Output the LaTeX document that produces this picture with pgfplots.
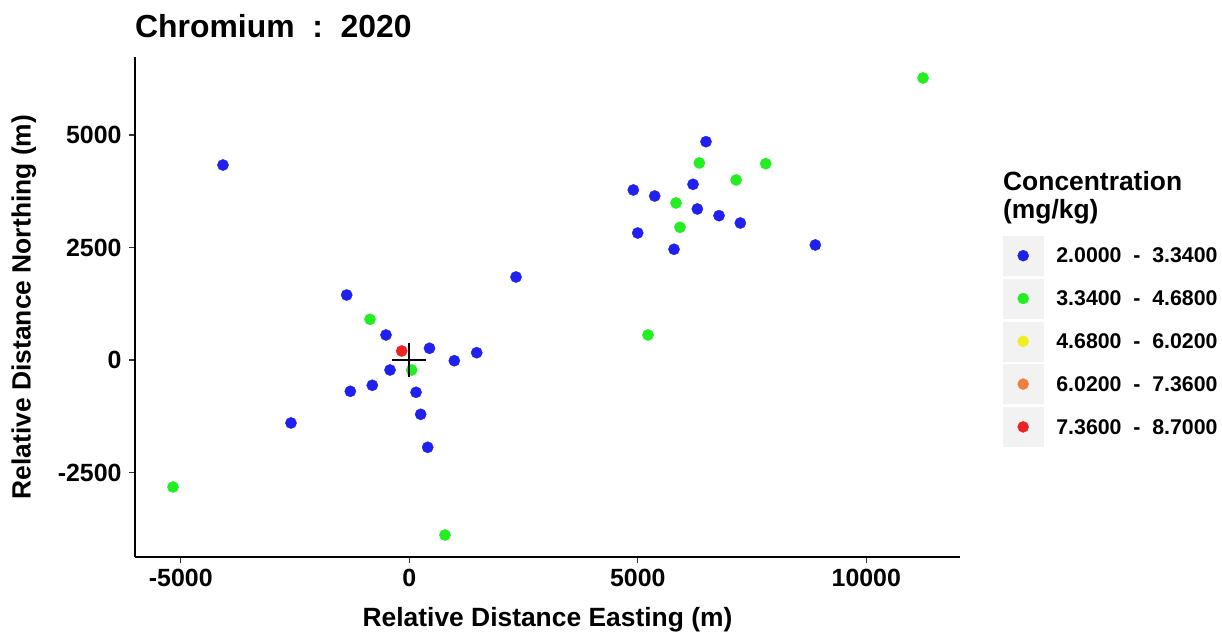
\documentclass[border=0pt]{standalone}
\usepackage{fontspec}
\setmainfont{Liberation Sans}
\usepackage{pgfplots}
\pgfplotsset{compat=1.18}
\definecolor{cBlue}{RGB}{32,32,240}
\definecolor{cGreen}{RGB}{34,238,34}
\definecolor{cYellow}{RGB}{238,238,34}
\definecolor{cOrange}{RGB}{238,128,64}
\definecolor{cRed}{RGB}{238,34,34}
\definecolor{keybg}{RGB}{242,242,242}
\begin{document}
\begin{tikzpicture}
\useasboundingbox (0,0) rectangle (1222bp,632bp);
\begin{axis}[
  at={(135bp,75bp)}, anchor=south west,
  width=825bp, height=500bp, scale only axis,
  xmin=-6002, xmax=12050, ymin=-4378, ymax=6733,
  axis lines=left,
  axis line style={-, line width=1.6bp, black},
  scaled ticks=false,
  xtick={-5000,0,5000,10000}, xticklabels={-5000,0,5000,10000},
  ytick={-2500,0,2500,5000}, yticklabels={-2500,0,2500,5000},
  tick align=outside, major tick length=6bp,
  tick style={line width=1.2bp, black!80},
  ticklabel style={font=\fontsize{25}{29}\selectfont\bfseries},
  xticklabel style={yshift=-3bp},
  yticklabel style={xshift=-4bp},
  xlabel={Relative Distance Easting (m)},
  ylabel={Relative Distance Northing (m)},
  label style={font=\fontsize{26.5}{30}\selectfont\bfseries, inner sep=0pt},
  xlabel style={at={(axis description cs:0.5,-0.1394)}, anchor=base},
  ylabel style={at={(axis description cs:-0.1264,0.5)}, anchor=base, rotate=0},
  legend style={at={(axis description cs:1.0521,0.642)}, anchor=north west,
    draw=none, fill=none, inner sep=0pt, outer sep=0pt, row sep=3.4bp,
    font=\fontsize{21.4}{25}\selectfont\bfseries,
    /tikz/every odd column/.append style={column sep=11bp}},
  legend cell align=left,
  legend image code/.code={\fill[keybg] (0bp,-19bp) rectangle (40bp,20bp);
    \draw[mark size=5.5bp] plot coordinates {(20bp,0.5bp)};},
  clip=false,
]
\addplot[only marks, mark=*, color=cBlue, mark size=5.6bp] coordinates {
(-1370,1444) (-510,556) (442,260) (985,-16) (1475,162) (2335,1844)
(-422,-222) (-810,-562) (-1291,-696) (147,-718) (249,-1207) (403,-1940)
(-2589,-1400) (-4077,4333) (6492,4851) (6208,3904) (4902,3778) (5370,3644)
(6302,3356) (6777,3207) (7243,3044) (4998,2822) (5792,2460) (8884,2556)
};
\addlegendentry{2.0000\ \ -\ \ 3.3400}
\addplot[only marks, mark=*, color=cGreen, mark size=5.6bp] coordinates {
(-860,904) (53,-222) (-5171,-2822) (780,-3889) (5223,556) (11240,6267)
(6346,4378) (7799,4362) (7151,4000) (5836,3489) (5923,2949)
};
\addlegendentry{3.3400\ \ -\ \ 4.6800}
\addlegendimage{only marks, mark=*, color=cYellow}
\addlegendentry{4.6800\ \ -\ \ 6.0200}
\addlegendimage{only marks, mark=*, color=cOrange}
\addlegendentry{6.0200\ \ -\ \ 7.3600}
\addplot[only marks, mark=*, color=cRed, mark size=5.6bp] coordinates {(-166,200)};
\addlegendentry{7.3600\ \ -\ \ 8.7000}
\addplot[forget plot, only marks, mark=+, mark size=17bp, mark options={line width=2.2bp, black}] coordinates {(0,0)};
\node[anchor=base west, inner sep=0pt, font=\fontsize{32}{38}\selectfont\bfseries] at (axis description cs:0,1.0394) {Chromium\ \ :\ \ 2020};
\node[anchor=base west, inner sep=0pt, font=\fontsize{26.5}{30}\selectfont\bfseries] at (axis description cs:1.0521,0.7326) {Concentration};
\node[anchor=base west, inner sep=0pt, font=\fontsize{26.5}{30}\selectfont\bfseries] at (axis description cs:1.0521,0.678) {(mg/kg)};
\end{axis}
\end{tikzpicture}
\end{document}
